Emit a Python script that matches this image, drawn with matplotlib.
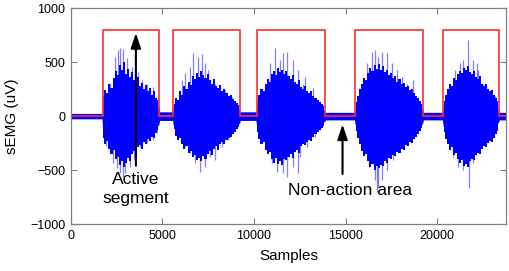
import matplotlib
matplotlib.use("Agg")
import matplotlib.pyplot as plt
import numpy as np

plt.rcParams['font.family'] = ['Liberation Sans', 'DejaVu Sans']

# Activity detection (red) : segment edges and levels
seg_edges = [0, 1730, 4820, 5585, 9225, 10140, 13850, 15520, 19230, 20320, 23380, 23750]
seg_levels = [0, 800, 0, 800, 0, 800, 0, 800, 0, 800, 0]

# sEMG dense core envelope
core_x = [0, 1700, 1730, 2000, 2500, 3000, 3500, 4000, 4500, 4800, 4850,
          5550, 5585, 6000, 6500, 7000, 7500, 8000, 8500, 9200, 9250,
          10100, 10140, 10500, 11000, 11500, 12000, 12500, 13000, 13500, 13850, 13900,
          15480, 15520, 16000, 16500, 17000, 17500, 18000, 18500, 19200, 19250,
          20280, 20320, 20700, 21200, 21700, 22200, 22700, 23300, 23400, 23750]
core_top = [25, 25, 120, 150, 190, 200, 170, 140, 110, 80, 40,
            40, 80, 130, 170, 200, 180, 140, 100, 70, 40,
            40, 90, 150, 200, 210, 180, 150, 110, 80, 50, 35,
            35, 80, 160, 210, 210, 180, 140, 110, 70, 35,
            35, 90, 150, 200, 210, 170, 120, 70, 35, 35]
core_bot = [-25, -25, -130, -160, -200, -210, -180, -150, -120, -80, -40,
            -40, -80, -140, -180, -210, -190, -150, -110, -70, -40,
            -40, -90, -160, -210, -220, -190, -160, -120, -80, -50, -35,
            -35, -80, -170, -220, -220, -190, -150, -120, -70, -35,
            -35, -90, -160, -210, -220, -180, -130, -70, -35, -35]

# sEMG ragged edge per burst (outer extent of the dense trace, read left to right)
b1_top = [190, 240, 210, 300, 260, 350, 420, 380, 470, 430, 500, 390, 440, 360,
          410, 330, 300, 360, 280, 310, 250, 290, 230, 260, 200, 230, 170, 150]
b1_bot = [-200, -260, -230, -300, -350, -310, -400, -380, -450, -420, -470, -430, -390, -420,
          -350, -320, -360, -290, -270, -300, -240, -260, -210, -230, -190, -200, -160, -130]
b2_top = [110, 170, 150, 230, 200, 280, 250, 320, 290, 370, 340, 400, 360, 420, 380, 350,
          390, 330, 300, 340, 280, 260, 290, 230, 250, 210, 190, 200, 160, 140, 120, 100]
b2_bot = [-120, -180, -220, -200, -260, -300, -280, -340, -320, -380, -360, -410, -390, -420, -370, -400,
          -350, -320, -360, -300, -280, -310, -260, -240, -260, -220, -200, -190, -170, -150, -120, -100]
b3_top = [140, 200, 250, 230, 300, 340, 320, 390, 420, 380, 450, 410, 430, 390, 420, 370, 340,
          380, 320, 300, 330, 270, 250, 280, 230, 210, 230, 190, 170, 150, 130, 110, 90]
b3_bot = [-150, -210, -260, -240, -310, -350, -330, -400, -430, -390, -440, -420, -450, -400, -410, -380, -350,
          -390, -330, -310, -340, -280, -260, -270, -240, -220, -230, -190, -170, -150, -130, -110, -90]
b4_top = [130, 190, 250, 300, 350, 330, 400, 450, 420, 470, 440, 480, 430, 460, 410, 430, 380,
          400, 350, 370, 320, 340, 300, 310, 270, 280, 240, 250, 210, 190, 170, 140, 110]
b4_bot = [-140, -200, -260, -320, -370, -350, -420, -470, -440, -500, -460, -480, -450, -460, -420, -430, -390,
          -400, -360, -370, -330, -340, -300, -310, -270, -280, -240, -250, -210, -190, -170, -140, -110]
b5_top = [140, 200, 250, 300, 280, 350, 330, 390, 420, 400, 450, 430, 460, 410,
          390, 420, 360, 340, 370, 300, 280, 300, 250, 230, 240, 200, 170, 140]
b5_bot = [-150, -210, -260, -310, -290, -360, -340, -400, -430, -410, -460, -440, -470, -420,
          -400, -410, -360, -340, -350, -300, -280, -290, -250, -230, -240, -200, -170, -140]
edge_tops = [b1_top, b2_top, b3_top, b4_top, b5_top]
edge_bots = [b1_bot, b2_bot, b3_bot, b4_bot, b5_bot]

# sEMG spikes (upper peaks)
spk_top_x = [2130, 2400, 2565, 2660, 2820, 3040, 3313, 3500, 3675, 3900, 4132, 4300, 4495, 4765,
             5677, 6043, 6223, 6496, 6676, 6950, 7135, 7315, 7495, 7860, 8133, 8406, 8772, 9045,
             10224, 10590, 10862, 11135, 11408, 11590, 11775, 12135, 12408, 12680, 12772, 13046, 13228, 13410, 13683,
             15595, 15868, 16140, 16413, 16594, 16776, 16959, 17232, 17505, 17778, 18051, 18323, 18687, 19051,
             20415, 20688, 20960, 21233, 21415, 21688, 21960, 22147, 22233, 22506, 22779, 23144]
spk_top = [305, 549, 611, 627, 617, 534, 457, 380, 410, 330, 302, 260, 272, 179,
           148, 333, 395, 457, 580, 549, 574, 488, 426, 302, 256, 240, 179, 117,
           117, 302, 488, 627, 518, 580, 596, 518, 426, 300, 364, 230, 256, 148, 102,
           117, 302, 488, 596, 611, 549, 596, 580, 488, 426, 364, 300, 333, 117,
           117, 302, 426, 488, 518, 704, 518, 488, 426, 302, 210, 190]

# sEMG spikes (lower peaks)
spk_bot_x = [1900, 2310, 2500, 2675, 2857, 2948, 3220, 3450, 3766, 4132, 4495, 4700,
             5857, 6223, 6496, 6769, 7041, 7315, 7587, 7860, 8226, 8587, 8952,
             10681, 10954, 11226, 11590, 11775, 12135, 12408, 12500, 12863, 13319, 13592,
             15705, 15977, 16250, 16594, 16700, 16776, 16959, 17232, 17595, 17960, 18323, 18869,
             20597, 20869, 21142, 21415, 21742, 21960, 22324, 22688, 23144]
spk_bot = [-280, -438, -480, -531, -560, -531, -469, -400, -284, -253, -222, -160,
           -160, -284, -346, -438, -515, -469, -377, -407, -284, -222, -130,
           -315, -438, -515, -531, -562, -469, -531, -377, -284, -191, -130,
           -191, -346, -469, -593, -700, -654, -593, -500, -407, -315, -253, -160,
           -160, -377, -469, -500, -670, -438, -346, -222, -130]

x_ticks = [0, 5000, 10000, 15000, 20000]
y_ticks = [-1000, -500, 0, 500, 1000]

fig = plt.figure(figsize=(5.10, 2.71), dpi=100)
ax = fig.add_axes([0.139, 0.173, 0.853, 0.797])

blue = '#0000ff'
ax.vlines(spk_top_x, 0, spk_top, color=blue, linewidth=0.9, alpha=0.5, zorder=2)
ax.vlines(spk_bot_x, spk_bot, 0, color=blue, linewidth=0.9, alpha=0.5, zorder=2)
ax.fill_between(core_x, core_bot, core_top, color=blue, linewidth=0, zorder=2)
for k in range(len(edge_tops)):
    lo, hi = seg_edges[2 * k + 1], seg_edges[2 * k + 2]
    ex = np.linspace(lo + 40, hi - 40, len(edge_tops[k]))
    ax.fill_between(ex, edge_bots[k], edge_tops[k], step='mid', color=blue,
                    linewidth=0, zorder=2)

ax.stairs(seg_levels, seg_edges, color='#ff3030', linewidth=1.2, zorder=3)

ax.set_xlim(0, 23750)
ax.set_ylim(-1000, 1000)
ax.set_xticks(x_ticks)
ax.set_yticks(y_ticks)
ax.tick_params(direction='in', length=4, width=0.8, color='#808080',
               top=True, right=True, labelsize=9, pad=4)
for s in ax.spines.values():
    s.set_color('#808080')
    s.set_linewidth(0.9)
ax.set_xlabel('Samples', fontsize=11, labelpad=5)
ax.set_ylabel('sEMG (uV)', fontsize=11, labelpad=8)

ax.annotate('', xy=(3548, 796), xytext=(3548, -485),
            arrowprops=dict(arrowstyle='-|>,head_length=0.9,head_width=0.3',
                            color='black', lw=1.5), zorder=4)
ax.text(3530, -520, 'Active\nsegment', ha='center', va='top', fontsize=12.5,
        linespacing=1.3, zorder=4)

ax.annotate('', xy=(14830, -50), xytext=(14830, -562),
            arrowprops=dict(arrowstyle='-|>,head_length=0.9,head_width=0.3',
                            color='black', lw=1.5), zorder=4)
ax.text(15230, -620, 'Non-action area', ha='center', va='top', fontsize=12.5, zorder=4)

fig.savefig('out.png', dpi=100)
